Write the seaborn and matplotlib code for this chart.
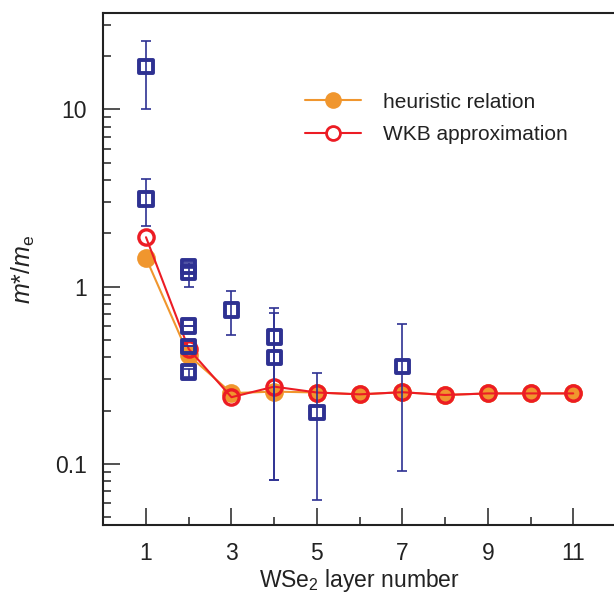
import numpy as np
import pandas as pd
import matplotlib
matplotlib.use("Agg")
import matplotlib.pyplot as plt
from matplotlib.ticker import FixedLocator, LogLocator, FuncFormatter, NullFormatter
from matplotlib.lines import Line2D
import seaborn as sns

# Layer numbers and effective-mass values
layers = [1, 2, 3, 4, 5, 6, 7, 8, 9, 10, 11]
heuristic = [1.45, 0.41, 0.251, 0.256, 0.253, 0.247, 0.254, 0.245, 0.25, 0.25, 0.25]
wkb = [1.90, 0.445, 0.238, 0.273, 0.253, 0.247, 0.254, 0.245, 0.25, 0.25, 0.25]

# Experimental values with lower / upper bounds
exp_x = [1, 1, 2, 2, 2, 2, 2, 3, 4, 4, 5, 7]
exp_y = [17.4, 3.12, 1.30, 1.20, 0.60, 0.46, 0.33, 0.74, 0.52, 0.40, 0.195, 0.355]
exp_lo = [10.1, 2.21, 1.27, 1.00, 0.60, 0.46, 0.31, 0.535, 0.081, 0.081, 0.063, 0.091]
exp_hi = [24.4, 4.05, 1.33, 1.36, 0.60, 0.46, 0.345, 0.95, 0.76, 0.71, 0.325, 0.614]

x_ticks = [1, 3, 5, 7, 9, 11]
y_ticks = [0.1, 1, 10]

ORANGE = "#f0962e"
RED = "#ec1c24"
BLUE = "#2e3192"

sns.set_theme(style="ticks")
plt.rcParams["font.family"] = ["Liberation Sans", "DejaVu Sans"]
plt.rcParams["mathtext.fontset"] = "custom"
plt.rcParams["mathtext.rm"] = "Liberation Sans"
plt.rcParams["mathtext.it"] = "Liberation Sans:italic"

fig = plt.figure(figsize=(6.14, 6.01), dpi=100)
ax = fig.add_axes([0.1682, 0.1265, 0.835, 0.8514])

theory = pd.DataFrame({"layer": layers, "heuristic": heuristic, "wkb": wkb})
exp = pd.DataFrame({"layer": exp_x, "mass": exp_y, "lo": exp_lo, "hi": exp_hi})

sns.lineplot(data=theory, x="layer", y="heuristic", ax=ax, color=ORANGE,
             linewidth=1.5, marker="o", markersize=13.5, markerfacecolor=ORANGE,
             markeredgecolor=ORANGE, markeredgewidth=0, zorder=3)
sns.lineplot(data=theory, x="layer", y="wkb", ax=ax, color=RED,
             linewidth=1.5, marker="o", markersize=11, markerfacecolor="none",
             markeredgecolor=RED, markeredgewidth=2.4, zorder=4)

ax.errorbar(exp["layer"], exp["mass"],
            yerr=[exp["mass"] - exp["lo"], exp["hi"] - exp["mass"]],
            fmt="none", ecolor=BLUE, elinewidth=1.2, capsize=3.3,
            capthick=1.2, zorder=5)
sns.scatterplot(data=exp, x="layer", y="mass", ax=ax, marker="s", s=92,
                facecolor="none", edgecolor=BLUE, linewidth=2.8, zorder=6)
ax.collections[-1].set_facecolor("none")

ax.set_yscale("log")
ax.set_xlim(0, 12)
ax.set_ylim(0.0453, 34.8)

ax.xaxis.set_major_locator(FixedLocator(x_ticks))
ax.xaxis.set_minor_locator(FixedLocator([2, 4, 6, 8, 10]))
ax.yaxis.set_major_locator(FixedLocator(y_ticks))
ax.yaxis.set_minor_locator(LogLocator(base=10, subs=np.arange(2, 10)))
ax.yaxis.set_major_formatter(FuncFormatter(lambda v, p: f"{v:g}"))
ax.yaxis.set_minor_formatter(NullFormatter())

ax.tick_params(axis="both", which="major", direction="in", length=12,
               width=1.1, labelsize=16.5, colors="#222222", pad=12)
ax.tick_params(axis="both", which="minor", direction="in", length=6,
               width=1.1, colors="#222222")
ax.tick_params(top=False, right=False, which="both")

for side in ["left", "bottom", "top"]:
    ax.spines[side].set_linewidth(1.5)
    ax.spines[side].set_color("#222222")
ax.spines["right"].set_visible(False)

ax.set_xlabel("WSe$_2$ layer number", fontsize=16.5, color="#222222", labelpad=2)
ax.set_ylabel(r"$m$*/$m_{\mathrm{e}}$", fontsize=18, color="#222222", labelpad=13)

handles = [
    Line2D([], [], color=ORANGE, linewidth=1.5, marker="o", markersize=12,
           markerfacecolor=ORANGE, markeredgewidth=0),
    Line2D([], [], color=RED, linewidth=1.5, marker="o", markersize=10,
           markerfacecolor="white", markeredgecolor=RED, markeredgewidth=2),
]
ax.legend(handles, ["heuristic relation", "WKB approximation"],
          loc="center left", bbox_to_anchor=(0.4967, 0.803),
          bbox_transform=fig.transFigure, frameon=False, fontsize=15,
          handlelength=2.7, handletextpad=1.05, labelspacing=0.65,
          borderpad=0, borderaxespad=0, labelcolor="#222222")

fig.savefig("out.png", dpi=100)
